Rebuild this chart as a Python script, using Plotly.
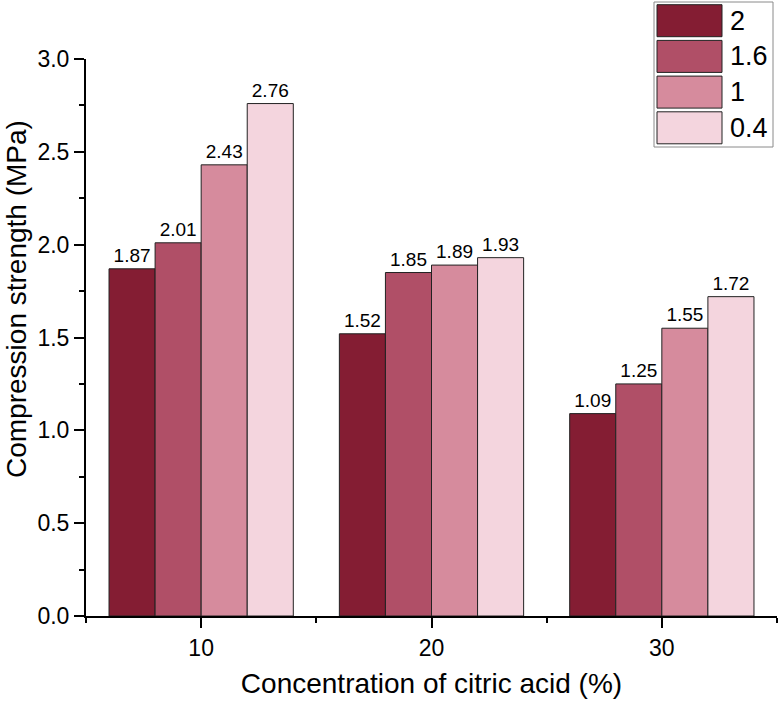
import plotly.graph_objects as go

categories = [10, 20, 30]
series_names = ["2", "1.6", "1", "0.4"]
values_2 = [1.87, 1.52, 1.09]
values_16 = [2.01, 1.85, 1.25]
values_1 = [2.43, 1.89, 1.55]
values_04 = [2.76, 1.93, 1.72]
colors = ["#841D33", "#B04F67", "#D68B9D", "#F4D5DE"]

all_values = [values_2, values_16, values_1, values_04]

W, H = 779, 704
ML, MR, MT, MB = 86, 2, 59, 88
PW, PH = W - ML - MR, H - MT - MB

def px_x(x):
    return (x - ML) / PW

def px_y(y):
    return (H - MB - y) / PH

FONT = "Arial, Liberation Sans, sans-serif"

fig = go.Figure()
for name, vals, col in zip(series_names, all_values, colors):
    fig.add_trace(go.Bar(
        x=categories, y=vals, name=name,
        marker=dict(color=col, line=dict(color="#222222", width=1)),
        text=[f"{v:.2f}" for v in vals], textposition="outside",
        textfont=dict(family=FONT, size=19, color="black"),
        constraintext="none", cliponaxis=False,
    ))

# custom legend
shapes = [dict(type="rect", xref="paper", yref="paper",
               x0=px_x(654), x1=px_x(773), y0=px_y(147), y1=px_y(2),
               line=dict(color="#8a8a8a", width=1), fillcolor="white", layer="above")]
annotations = []
for i, (name, col) in enumerate(zip(series_names, colors)):
    top = 4.7 + i * 35.7
    shapes.append(dict(type="rect", xref="paper", yref="paper",
                       x0=px_x(657), x1=px_x(722), y0=px_y(top + 32), y1=px_y(top),
                       line=dict(color="#222222", width=1), fillcolor=col, layer="above"))
    annotations.append(dict(xref="paper", yref="paper", x=px_x(728), y=px_y(top + 16),
                            text=name, showarrow=False, xanchor="left", yanchor="middle",
                            font=dict(family=FONT, size=27, color="black")))

# y-axis title (placed as in the reference, slightly above the axis centre)
annotations.append(dict(xref="paper", yref="paper", x=px_x(16), y=px_y(299),
                        text="Compression strength (MPa)", textangle=-90, showarrow=False,
                        xanchor="center", yanchor="middle",
                        font=dict(family=FONT, size=28, color="black")))

fig.update_layout(
    width=W, height=H, margin=dict(l=ML, r=MR, t=MT, b=MB),
    paper_bgcolor="white", plot_bgcolor="white",
    barmode="group", bargap=0.2, bargroupgap=0,
    showlegend=False, shapes=shapes, annotations=annotations,
    font=dict(family=FONT, color="black"),
)
fig.update_xaxes(
    range=[5, 35], tickmode="array", tickvals=categories, ticktext=[str(c) for c in categories],
    ticks="outside", ticklen=10, tickwidth=1.5, tickcolor="black",
    minor=dict(tickmode="array", tickvals=[5, 15, 25, 35], ticks="outside", ticklen=5, tickwidth=1.5, tickcolor="black"),
    showline=True, linecolor="black", linewidth=2, showgrid=False, zeroline=False,
    tickfont=dict(family=FONT, size=23),
    title=dict(text="Concentration of citric acid (%)", font=dict(family=FONT, size=28), standoff=14),
)
fig.update_yaxes(
    range=[0, 3], dtick=0.5, tickformat=".1f",
    ticks="outside", ticklen=10, tickwidth=1.5, tickcolor="black",
    minor=dict(dtick=0.25, ticks="outside", ticklen=5, tickwidth=1.5, tickcolor="black"),
    showline=True, linecolor="black", linewidth=2, showgrid=False, zeroline=False,
    tickfont=dict(family=FONT, size=23),
)
fig.write_html("out.html")
